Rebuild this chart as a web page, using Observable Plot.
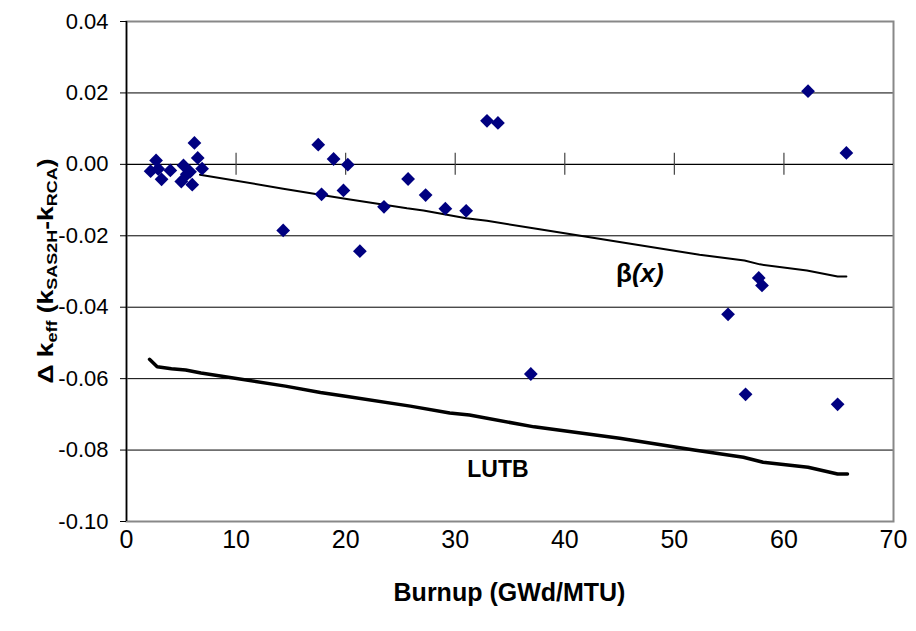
<!DOCTYPE html>
<html><head><meta charset="utf-8">
<script src="https://cdn.jsdelivr.net/npm/d3@7"></script>
<script src="https://cdn.jsdelivr.net/npm/@observablehq/plot@0.6"></script>
<style>
body{margin:0;background:#fff;font-family:"Liberation Sans",Arial,sans-serif}
</style>
</head><body><div id="chart"></div>
<script>
// measured points: burnup (GWd/MTU) and Δk_eff
const burnup = [2.2, 2.7, 2.9, 3.2, 4.0, 5.0, 5.2, 5.5, 5.8, 6.0, 6.2, 6.5, 6.9,
  14.3, 17.5, 17.8, 18.9, 19.8, 20.2, 21.3, 23.5, 25.7, 27.3, 29.1, 31.0, 32.9, 33.9,
  36.9, 54.9, 56.5, 57.7, 58.0, 62.2, 64.9, 65.7];
const deltaK = [-0.0019, 0.0011, -0.0013, -0.0042, -0.0017, -0.0048, -0.0003, -0.0028, -0.0021, -0.0057, 0.0060, 0.0018, -0.0012,
  -0.0185, 0.0055, -0.0084, 0.0015, -0.0073, -0.0001, -0.0243, -0.0119, -0.0041, -0.0086, -0.0124, -0.0130, 0.0122, 0.0116,
  -0.0587, -0.0420, -0.0644, -0.0318, -0.0339, 0.0205, -0.0672, 0.0032];

// β(x) curve
const betaX = [6.7, 14.3, 17.4, 20.1, 25.6, 27.1, 31.0, 32.9, 37.7, 52.3, 56.4, 57.8, 62.1, 64.9, 65.7];
const betaY = [-0.0029, -0.0068, -0.0084, -0.0097, -0.0123, -0.0129, -0.0151, -0.0158, -0.0182, -0.0253, -0.0269, -0.0280, -0.0297, -0.0314, -0.0314];

// LUTB curve
const lutbX = [2.1, 2.8, 4.1, 5.4, 6.8, 14.5, 17.7, 20.0, 25.9, 29.5, 31.3, 37.2, 45.0, 51.8, 56.3, 58.1, 62.2, 64.9, 65.8];
const lutbY = [-0.0546, -0.0567, -0.0572, -0.0576, -0.0584, -0.0621, -0.0639, -0.0649, -0.0677, -0.0696, -0.0702, -0.0735, -0.0767, -0.0800, -0.0820, -0.0834, -0.0848, -0.0867, -0.0867];

const xTicks = [0, 10, 20, 30, 40, 50, 60, 70];
const yTicks = [0.04, 0.02, 0.00, -0.02, -0.04, -0.06, -0.08, -0.10];
const gridY = [0.02, -0.02, -0.04, -0.06, -0.08];
const zeroAxisTicks = [10, 20, 30, 40, 50, 60];

const points = burnup.map((x, i) => ({x, y: deltaK[i]}));
const beta = betaX.map((x, i) => ({x, y: betaY[i]}));
const lutb = lutbX.map((x, i) => ({x, y: lutbY[i]}));

const plot = Plot.plot({
  width: 916, height: 631,
  marginLeft: 126, marginRight: 23, marginTop: 21, marginBottom: 110,
  x: {domain: [0, 70]},
  y: {domain: [-0.10, 0.04]},
  style: {fontFamily: "'Liberation Sans', Arial, sans-serif", fontSize: "22px", background: "#fff", color: "#000", overflow: "visible"},
  marks: [
    Plot.ruleY(gridY, {stroke: "#000", strokeWidth: 1}),
    Plot.frame({stroke: "#888", strokeWidth: 2}),
    Plot.ruleY([0], {stroke: "#000", strokeWidth: 1.3}),
    Plot.ruleX(zeroAxisTicks, {y1: 0, y2: 0, insetTop: 11, insetBottom: 11, stroke: "#444", strokeWidth: 1.2}),
    Plot.ruleX([0], {stroke: "#000", strokeWidth: 1.5}),
    Plot.axisY({ticks: yTicks, tickSize: 6, tickPadding: 12, tickFormat: d => d.toFixed(2), label: null, fontSize: 22}),
    Plot.axisX({ticks: xTicks, tickSize: 0, tickPadding: 9, label: null, fontSize: 25}),
    Plot.line(beta, {x: "x", y: "y", stroke: "#000", strokeWidth: 2}),
    Plot.line(lutb, {x: "x", y: "y", stroke: "#000", strokeWidth: 3.5}),
    Plot.dot(points, {x: "x", y: "y", symbol: "diamond2", r: 6.2, fill: "#000080", stroke: "none"}),
    Plot.text(["LUTB"], {x: 33.9, y: -0.0856, text: d => d, fontWeight: "bold", fontSize: 23})
  ]
});
document.getElementById("chart").appendChild(plot);

const svg = d3.select(plot);
const sx = plot.scale("x"), sy = plot.scale("y");

// β(x) label
const bt = svg.append("text")
  .attr("x", sx.apply(46.9)).attr("y", sy.apply(-0.0305))
  .attr("text-anchor", "middle").attr("dy", "0.35em")
  .attr("font-size", 26).attr("font-weight", "bold");
bt.append("tspan").text("β");
bt.append("tspan").attr("font-style", "italic").text("(x)");

// x-axis title
svg.append("text")
  .attr("x", (sx.apply(0) + sx.apply(70)) / 2).attr("y", 601)
  .attr("text-anchor", "middle").attr("font-size", 25).attr("font-weight", "bold")
  .text("Burnup (GWd/MTU)");

// y-axis title
const yl = svg.append("text")
  .attr("transform", `translate(53,${(sy.apply(0.04) + sy.apply(-0.10)) / 2}) rotate(-90) scale(1.2,1)`)
  .attr("text-anchor", "middle").attr("font-size", 22).attr("font-weight", "bold");
yl.append("tspan").text("Δ k");
yl.append("tspan").attr("font-size", 15).attr("dy", 4).text("eff");
yl.append("tspan").attr("dy", -4).text(" (k");
yl.append("tspan").attr("font-size", 15).attr("dy", 4).text("SAS2H");
yl.append("tspan").attr("dy", -4).text("-k");
yl.append("tspan").attr("font-size", 15).attr("dy", 4).text("RCA");
yl.append("tspan").attr("dy", -4).text(")");
</script>
</body></html>
